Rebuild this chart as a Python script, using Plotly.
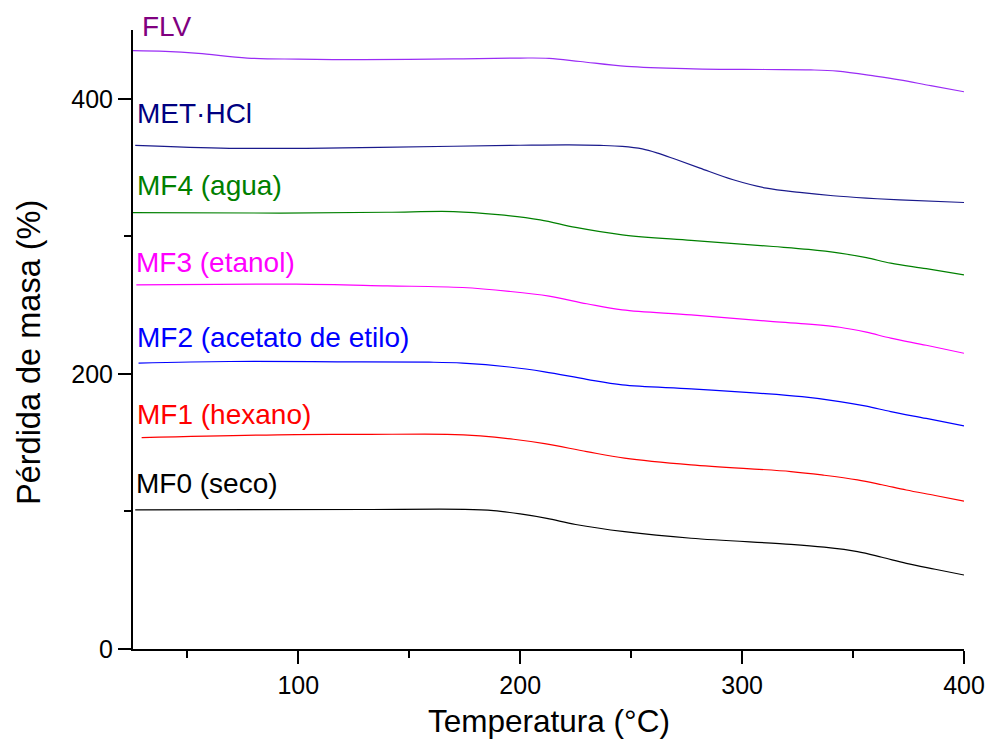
import plotly.graph_objects as go

# ---- data ----
temp_flv = [25.5, 40, 55, 77, 100, 129, 170, 200, 213, 227, 248, 278, 310, 331, 343, 360, 371, 385, 400]
mass_flv = [435.0, 434.5, 433.0, 429.6, 428.8, 428.4, 429.0, 429.6, 429.4, 427.1, 423.5, 421.8, 421.3, 421.0, 420.1, 416.5, 413.8, 409.5, 405.1]

temp_met = [26.5, 69, 120, 170, 200, 222, 236, 246, 255, 262, 270, 281, 296, 311, 326, 341, 356, 371, 400]
mass_met = [366.1, 364.0, 364.3, 365.5, 366.2, 366.5, 366.1, 365.4, 363.6, 360.5, 356.0, 349.6, 341.1, 335.0, 331.9, 329.5, 327.8, 326.5, 324.6]

temp_mf4 = [25.5, 92, 140, 170, 190, 209, 225, 246, 277, 314, 330, 344, 356, 367, 383, 400]
mass_mf4 = [317.3, 316.9, 317.5, 318.0, 315.8, 312.0, 306.5, 301.1, 297.0, 292.6, 290.5, 287.8, 284.5, 280.5, 276.5, 272.0]

temp_mf3 = [27, 99, 140, 174, 195, 213, 230, 246, 277, 314, 330, 344, 356, 367, 383, 400]
mass_mf3 = [264.7, 265.2, 264.0, 262.8, 260.0, 256.5, 251.0, 246.5, 242.9, 238.0, 236.2, 233.9, 230.3, 226.0, 220.8, 215.0]

temp_mf2 = [28, 69, 120, 159, 174, 195, 211, 230, 246, 277, 307, 327, 344, 356, 367, 383, 400]
mass_mf2 = [207.8, 209.0, 208.8, 208.5, 207.8, 205.0, 201.5, 196.0, 192.0, 189.1, 186.0, 183.4, 179.9, 176.5, 172.6, 167.6, 162.2]

temp_mf1 = [29.4, 99, 130, 167, 182, 197, 211, 230, 247, 277, 322, 337, 352, 363, 374, 387, 400]
mass_mf1 = [153.7, 155.9, 156.0, 156.1, 154.9, 152.5, 149.3, 143.5, 138.7, 133.8, 129.0, 126.3, 122.9, 119.4, 115.6, 111.6, 107.5]

temp_mf0 = [26.5, 80, 130, 175, 188, 200, 212, 225, 247, 277, 322, 337, 352, 363, 374, 387, 400]
mass_mf0 = [101.1, 101.3, 101.4, 101.5, 100.6, 98.2, 95.0, 90.5, 85.3, 80.5, 76.1, 74.0, 70.8, 66.7, 62.3, 58.0, 53.8]

series_names = ["FLV", "MET·HCl", "MF4 (agua)", "MF3 (etanol)", "MF2 (acetato de etilo)", "MF1 (hexano)", "MF0 (seco)"]
series_temps = [temp_flv, temp_met, temp_mf4, temp_mf3, temp_mf2, temp_mf1, temp_mf0]
series_mass = [mass_flv, mass_met, mass_mf4, mass_mf3, mass_mf2, mass_mf1, mass_mf0]

# ---- styles ----
line_colors = ["#9a2cf5", "#1a1a8c", "#008000", "#ff00ff", "#0000ff", "#ff0000", "#000000"]
text_colors = ["#800080", "#000080", "#008000", "#ff00ff", "#0000ff", "#ff0000", "#000000"]
label_x = [28.8, 26.4, 26.4, 26.0, 26.4, 26.4, 25.9]
label_y = [452.4, 389.1, 336.7, 281.1, 226.5, 170.2, 120.0]

FONT = "Liberation Sans, Arial, sans-serif"
X_RANGE = [25.5, 400]
Y_RANGE = [0, 450]

fig = go.Figure()
for name, t, m, c in zip(series_names, series_temps, series_mass, line_colors):
    fig.add_trace(go.Scatter(x=t, y=m, mode="lines", name=name,
                             line=dict(color=c, width=1.2, shape="spline", smoothing=1.0),
                             showlegend=False))

W, H = 989, 744
ml, mr, mt, mb = 133, 25, 30, 95
pw, ph = W - ml - mr, H - mt - mb

annotations = []
for name, lx, ly, tc in zip(series_names, label_x, label_y, text_colors):
    annotations.append(dict(
        x=(lx - X_RANGE[0]) / (X_RANGE[1] - X_RANGE[0]),
        y=(ly - Y_RANGE[0]) / (Y_RANGE[1] - Y_RANGE[0]),
        xref="paper", yref="paper", text=name, showarrow=False,
        xanchor="left", yanchor="middle",
        font=dict(family=FONT, size=28, color=tc)))

annotations.append(dict(x=(549 - ml) / pw, y=(H - mb - 721) / ph, xref="paper", yref="paper",
                        text="Temperatura (°C)", showarrow=False, xanchor="center", yanchor="middle",
                        font=dict(family=FONT, size=31.5, color="#000")))
annotations.append(dict(x=(29 - ml) / pw, y=(H - mb - 352) / ph, xref="paper", yref="paper",
                        text="Pérdida de masa (%)", showarrow=False, textangle=-90,
                        xanchor="center", yanchor="middle",
                        font=dict(family=FONT, size=32.5, color="#000")))

axis_common = dict(showgrid=False, zeroline=False, automargin=False,
                   showline=True, linecolor="black", linewidth=2,
                   ticks="outside", ticklen=13, tickwidth=2, tickcolor="black",
                   tickfont=dict(family=FONT, size=25, color="#000"))

fig.update_layout(
    template="none",
    width=W, height=H,
    margin=dict(l=ml, r=mr, t=mt, b=mb, pad=0),
    paper_bgcolor="white", plot_bgcolor="white",
    font=dict(family=FONT, size=25, color="#000"),
    annotations=annotations,
    xaxis=dict(range=X_RANGE, tick0=0, dtick=100,
               minor=dict(ticks="outside", ticklen=7, tickwidth=2, tickcolor="black",
                          tick0=0, dtick=50, showgrid=False),
               **axis_common),
    yaxis=dict(range=Y_RANGE, tick0=0, dtick=200,
               minor=dict(ticks="outside", ticklen=7, tickwidth=2, tickcolor="black",
                          tick0=0, dtick=100, showgrid=False),
               **axis_common),
)

fig.write_html("out.html")
